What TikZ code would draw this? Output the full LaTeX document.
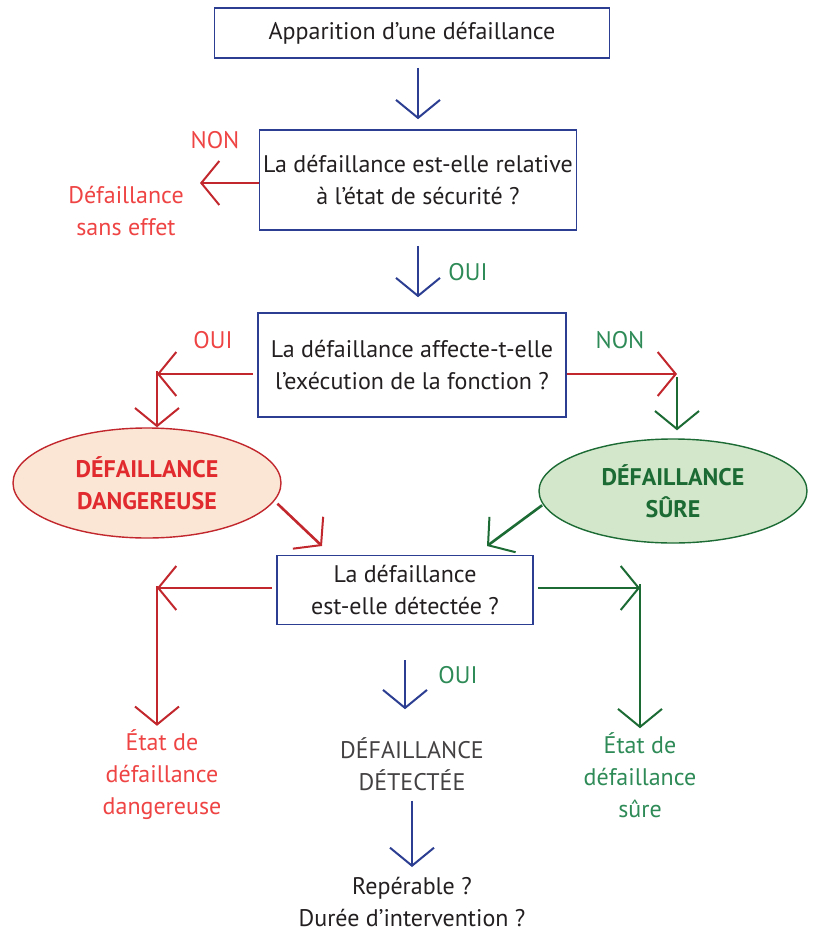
\documentclass[tikz,border=0pt]{standalone}
\usepackage{fontspec}
\setmainfont{PT Sans}
\usetikzlibrary{arrows.meta,shapes.geometric}
\definecolor{frameblue}{HTML}{2B3E91}
\definecolor{arrowred}{HTML}{C1272D}
\definecolor{labelred}{HTML}{EF4444}
\definecolor{boldred}{HTML}{E12A2E}
\definecolor{arrowgreen}{HTML}{1C6B35}
\definecolor{labelgreen}{HTML}{2E8B57}
\definecolor{textgray}{HTML}{231F20}
\definecolor{peach}{HTML}{FBE6D5}
\definecolor{mint}{HTML}{D3E7CA}

\begin{document}
\begin{tikzpicture}[x=1pt,y=-1pt]
  \tikzstyle{every node}=[font=\fontsize{24}{32}\selectfont,text=textgray,align=center,inner sep=0pt]
  \tikzstyle{box}=[rectangle,draw=frameblue,line width=1.6pt]
  \tikzstyle{bubble}=[ellipse,line width=1.4pt,font=\fontsize{24}{32}\selectfont\bfseries]
  \tikzstyle{chevron}=[line width=2.6pt,-{Straight Barb[length=18pt,width=44pt,line width=2pt]}]
  \tikzstyle{answer}=[font=\fontsize{24}{32}\selectfont]
  \useasboundingbox (0,0) rectangle (812,934);
  \node [box,minimum width=395pt,minimum height=50pt] (start) at (412,33) {Apparition d’une défaillance};
  \node [box,minimum width=317pt,minimum height=100pt] (qsafety) at (418,180) {La défaillance est-elle relative\\à l’état de sécurité ?};
  \node [box,minimum width=308pt,minimum height=104pt] (qfunc) at (412,365) {La défaillance affecte-t-elle\\l’exécution de la fonction ?};
  \node [bubble,draw=arrowred,fill=peach,text=boldred,minimum width=268pt,minimum height=110pt] (dang) at (147,483) {DÉFAILLANCE\\DANGEREUSE};
  \node [bubble,draw=arrowgreen,fill=mint,text=arrowgreen,minimum width=268pt,minimum height=104pt] (safe) at (673,491) {DÉFAILLANCE\\SÛRE};
  \node [box,minimum width=256pt,minimum height=69pt] (qdetect) at (405,590) {La défaillance\\est-elle détectée ?};
  \node [text=labelred] (noeffect) at (126,211) {Défaillance\\sans effet};
  \node [text=textgray!85] (detected) at (412,764) {DÉFAILLANCE\\DÉTECTÉE};
  \node [text=labelred] (dangstate) at (162,775) {État de\\défaillance\\dangereuse};
  \node [text=labelgreen] (safestate) at (640,775) {État de\\défaillance\\sûre};
  \node (questions) at (412,902) {Repérable ?\\Durée d’intervention ?};
  \node [answer,text=labelred] (non1) at (215,140) {NON};
  \node [answer,text=labelgreen] (oui1) at (468,272) {OUI};
  \node [answer,text=labelred] (oui2) at (213,340) {OUI};
  \node [answer,text=labelgreen] (non2) at (620,340) {NON};
  \node [answer,text=labelgreen] (oui3) at (458,675) {OUI};
  \coordinate (noeffectin) at (200,183);
  \coordinate (dangturn) at (157,374);
  \coordinate (safeturn) at (677,374);
  \coordinate (dangin) at (322,546);
  \coordinate (safein) at (487,546);
  \coordinate (dangdown) at (157,588);
  \coordinate (safedown) at (640,588);
  \draw [chevron,frameblue,shorten <=9pt,shorten >=10pt] (qsafety.north |- start.south) -- (qsafety.north);
  \draw [chevron,arrowred] (noeffectin -| qsafety.west) -- (noeffectin);
  \draw [chevron,frameblue,shorten <=15pt,shorten >=15pt] (qsafety.south) -- (qsafety.south |- qfunc.north);
  \draw [chevron,arrowred,shorten <=4pt] (dangturn -| qfunc.west) -- (dangturn);
  \draw [chevron,arrowred,shorten <=-3pt] (dangturn) -- (dangturn |- dang.north);
  \draw [chevron,arrowred] (safeturn -| qfunc.east) -- (safeturn);
  \draw [chevron,arrowgreen,shorten <=3pt,shorten >=8pt] (safeturn) -- (safeturn |- safe.north);
  \draw [chevron,arrowred,shorten <=4pt] (dang.-8) -- (dangin);
  \draw [chevron,arrowgreen,shorten <=1pt] (safe.186) -- (safein);
  \draw [chevron,arrowred,shorten <=4pt] (dangdown -| qdetect.west) -- (dangdown);
  \draw [chevron,arrowred,shorten <=-2pt,shorten >=4pt] (dangdown) -- (dangdown |- dangstate.north);
  \draw [chevron,arrowgreen,shorten <=4pt] (safedown -| qdetect.east) -- (safedown);
  \draw [chevron,arrowgreen,shorten <=-4pt,shorten >=4pt] (safedown) -- (safedown |- safestate.north);
  \draw [chevron,frameblue,shorten <=35pt,shorten >=28pt] (qdetect.south) -- (qdetect.south |- detected.north);
  \draw [chevron,frameblue,shorten <=10pt,shorten >=10pt] (detected.south) -- (questions.north);
\end{tikzpicture}
\end{document}
